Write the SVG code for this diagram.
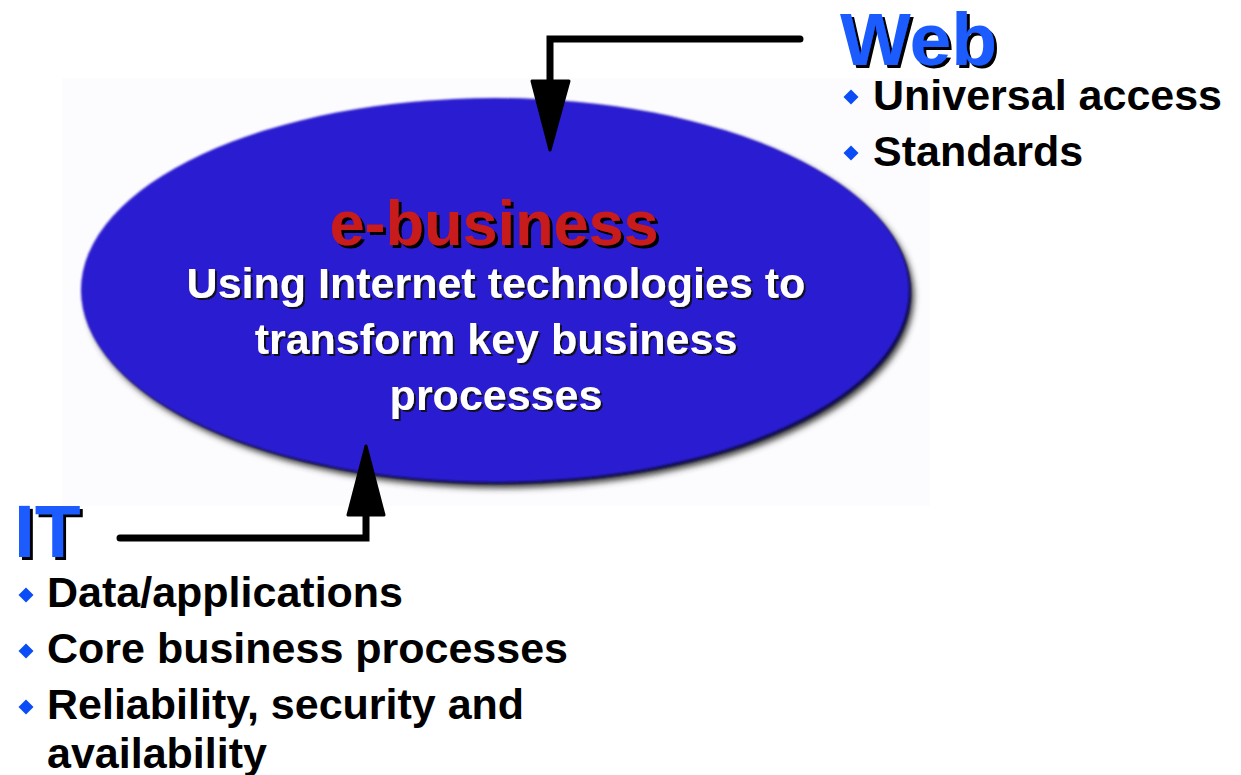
<svg xmlns="http://www.w3.org/2000/svg" width="1241" height="775" viewBox="0 0 1241 775">
<style>
.title{font-family:"Liberation Sans",Arial,sans-serif;font-weight:bold;font-size:75px;fill:#1a5cff;filter:url(#sh3)}
.bul{font-family:"Liberation Sans",Arial,sans-serif;font-weight:bold;font-size:43px;fill:#000}
.eb{font-family:"Liberation Sans",Arial,sans-serif;font-weight:bold;font-size:63px;text-anchor:middle;fill:#c81a1a;filter:url(#sh3)}
.wt{font-family:"Liberation Sans",Arial,sans-serif;font-weight:bold;font-size:43px;text-anchor:middle;fill:#fff;filter:url(#sh2)}
.dia{fill:#0a4cf5}
.conn{fill:none;stroke:#000;stroke-width:7;stroke-linecap:round;stroke-linejoin:miter}
.head{fill:#000;stroke:#000;stroke-width:3;stroke-linejoin:round}
</style>
<defs>
<filter id="blur" x="-10%" y="-10%" width="120%" height="120%"><feGaussianBlur stdDeviation="3"/></filter>
<filter id="soft" x="-5%" y="-5%" width="110%" height="110%"><feGaussianBlur stdDeviation="0.8"/></filter>
<filter id="sh3" x="-10%" y="-20%" width="120%" height="140%"><feDropShadow dx="3" dy="3" stdDeviation="0.3" flood-color="#000" flood-opacity="1"/></filter>
<filter id="sh2" x="-10%" y="-20%" width="120%" height="140%"><feDropShadow dx="2" dy="2" stdDeviation="0.6" flood-color="#111" flood-opacity="0.9"/></filter>
<path id="d" d="M0,-7.5 L7.5,0 L0,7.5 L-7.5,0 Z"/>
</defs>
<rect width="1241" height="775" fill="#ffffff"/>
<rect x="62" y="78" width="868" height="428" fill="#fcfcfe"/>
<g id="ebusiness">
<ellipse cx="500" cy="296" rx="414" ry="192" fill="#3a3a3a" filter="url(#blur)"/>
<ellipse cx="498" cy="293" rx="413" ry="191" fill="#0c0850" filter="url(#soft)"/>
<ellipse cx="495" cy="290" rx="414" ry="192" fill="#2b1bd0" filter="url(#soft)"/>
<text class="eb" x="494" y="245">e-business</text>
<text class="wt" x="496" y="298">Using Internet technologies to</text>
<text class="wt" x="496" y="354">transform key business</text>
<text class="wt" x="496" y="410">processes</text>
</g>
<g id="web">
<text class="title" x="840" y="65">Web</text>
<use href="#d" class="dia" x="851" y="97"/>
<text class="bul" x="873" y="110">Universal access</text>
<use href="#d" class="dia" x="851" y="153"/>
<text class="bul" x="873" y="166">Standards</text>
</g>
<g id="it">
<text class="title" x="14" y="557">IT</text>
<use href="#d" class="dia" x="26" y="595"/>
<text class="bul" x="47" y="607">Data/applications</text>
<use href="#d" class="dia" x="26" y="651"/>
<text class="bul" x="47" y="663">Core business processes</text>
<use href="#d" class="dia" x="26" y="707"/>
<text class="bul" x="47" y="719">Reliability, security and</text>
<text class="bul" x="47" y="768">availability</text>
</g>
<g id="connectors">
<path class="conn" d="M800,39 L550,39 L550,90"/>
<path class="head" d="M532,81 L569,81 L550,150 Z"/>
<path class="conn" d="M120,538 L366,538 L366,510"/>
<path class="head" d="M348,515 L384,515 L366,446 Z"/>
</g>
</svg>
